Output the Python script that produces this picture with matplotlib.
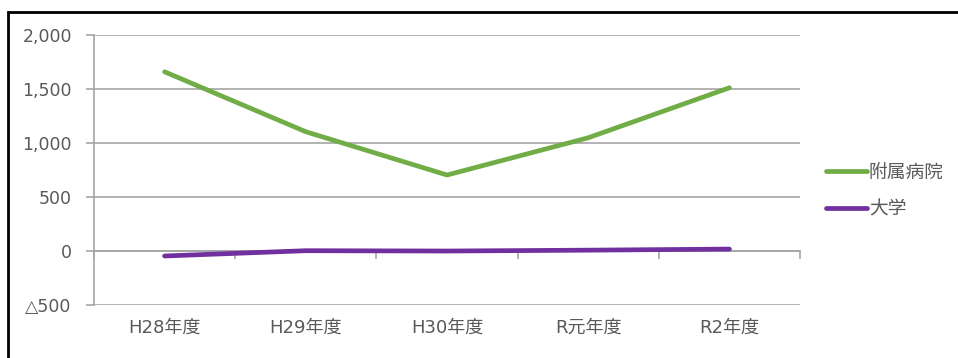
import matplotlib
matplotlib.use("Agg")
import matplotlib.pyplot as plt
from matplotlib.patches import Rectangle
import numpy as np

plt.rcParams['font.family'] = ['DejaVu Sans', 'Noto Sans CJK JP']

years = ['H28年度', 'H29年度', 'H30年度', 'R元年度', 'R2年度']
hospital = [1660, 1105, 704, 1049, 1512]
university = [-46, 3, 0, 8, 18]
y_ticks = [-500, 0, 500, 1000, 1500, 2000]
y_labels = ['△500', '0', '500', '1,000', '1,500', '2,000']

green = '#70AD47'
purple = '#7030A0'
grid_c = '#A6A6A6'
text_c = '#595959'

fig = plt.figure(figsize=(9.58, 3.58), dpi=100)
ax = fig.add_axes([0.0981, 0.148, 0.737, 0.754])

x = np.arange(len(years)) + 0.5
ax.plot(x, hospital, color=green, lw=3.4, solid_capstyle='round', label='附属病院', zorder=3)
ax.plot(x, university, color=purple, lw=3.4, solid_capstyle='round', label='大学', zorder=3)

ax.set_xlim(0, len(years))
ax.set_ylim(-500, 2000)
ax.set_yticks(y_ticks)
ax.set_yticklabels(y_labels)
ax.yaxis.grid(True, color=grid_c, lw=1.2)
ax.set_axisbelow(True)
ax.tick_params(axis='y', length=6, width=1.2, colors=grid_c, labelcolor=text_c,
               labelsize=12.5, pad=10)

# horizontal axis crosses at zero, category labels stay at the bottom
ax.spines['bottom'].set_position(('data', 0))
ax.spines['bottom'].set_color(grid_c)
ax.spines['bottom'].set_linewidth(1.2)
ax.spines['left'].set_color(grid_c)
ax.spines['left'].set_linewidth(1.2)
ax.spines['top'].set_visible(False)
ax.spines['right'].set_visible(False)
ax.set_xticks(np.arange(len(years) + 1))
ax.set_xticklabels([])
ax.tick_params(axis='x', length=6, width=1.2, color=grid_c, direction='out')

sec = ax.secondary_xaxis('bottom')
sec.set_xticks(x)
sec.set_xticklabels(years)
sec.tick_params(length=0, labelsize=13, labelcolor=text_c, pad=10)
sec.spines['bottom'].set_visible(False)

fig.legend(loc='center left', bbox_to_anchor=(0.862, 0.468), frameon=False,
           fontsize=13.5, handlelength=2.2, handletextpad=0.1, labelspacing=0.95,
           borderpad=0, borderaxespad=0, labelcolor=text_c)

fig.patches.append(Rectangle((0.008, -0.05), 1.1, 1.016, transform=fig.transFigure,
                             fill=False, edgecolor='black', lw=2))

fig.savefig('out.png', dpi=100)
